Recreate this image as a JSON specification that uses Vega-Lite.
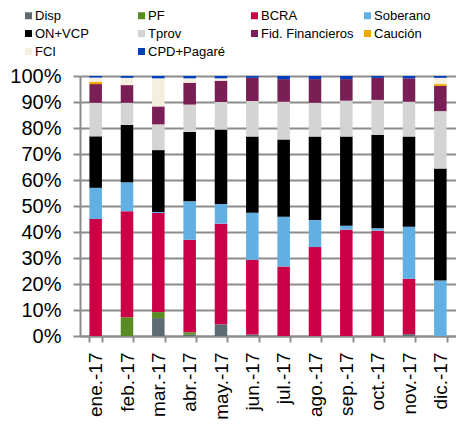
{
  "$schema": "https://vega.github.io/schema/vega-lite/v6.json",
  "width": 376,
  "height": 260,
  "autosize": {"type": "none"},
  "padding": {"left": 80, "top": 76, "right": 0, "bottom": 88},
  "background": "white",
  "config": {
    "font": "Liberation Sans",
    "view": {"stroke": null},
    "axis": {"labelFont": "Liberation Sans", "labelColor": "black"},
    "legend": {"labelFont": "Liberation Sans"}
  },
  "data": {
    "values": [
      {"mes": "ene.-17", "serie": "BCRA", "k": 3, "valor": 45},
      {"mes": "ene.-17", "serie": "Soberano", "k": 4, "valor": 12},
      {"mes": "ene.-17", "serie": "ON+VCP", "k": 5, "valor": 19.8},
      {"mes": "ene.-17", "serie": "Tprov", "k": 6, "valor": 12.9},
      {"mes": "ene.-17", "serie": "Fid. Financieros", "k": 7, "valor": 7.2},
      {"mes": "ene.-17", "serie": "Caución", "k": 8, "valor": 0.9},
      {"mes": "ene.-17", "serie": "FCI", "k": 9, "valor": 1.6},
      {"mes": "ene.-17", "serie": "CPD+Pagaré", "k": 10, "valor": 0.6},
      {"mes": "feb.-17", "serie": "PF", "k": 2, "valor": 7.2},
      {"mes": "feb.-17", "serie": "BCRA", "k": 3, "valor": 40.8},
      {"mes": "feb.-17", "serie": "Soberano", "k": 4, "valor": 11.1},
      {"mes": "feb.-17", "serie": "ON+VCP", "k": 5, "valor": 22.1},
      {"mes": "feb.-17", "serie": "Tprov", "k": 6, "valor": 8.5},
      {"mes": "feb.-17", "serie": "Fid. Financieros", "k": 7, "valor": 6.8},
      {"mes": "feb.-17", "serie": "FCI", "k": 9, "valor": 2.8},
      {"mes": "feb.-17", "serie": "CPD+Pagaré", "k": 10, "valor": 0.7},
      {"mes": "mar.-17", "serie": "Disp", "k": 1, "valor": 6.9},
      {"mes": "mar.-17", "serie": "PF", "k": 2, "valor": 2.3},
      {"mes": "mar.-17", "serie": "BCRA", "k": 3, "valor": 38.1},
      {"mes": "mar.-17", "serie": "Soberano", "k": 4, "valor": 0.4},
      {"mes": "mar.-17", "serie": "ON+VCP", "k": 5, "valor": 23.8},
      {"mes": "mar.-17", "serie": "Tprov", "k": 6, "valor": 9.9},
      {"mes": "mar.-17", "serie": "Fid. Financieros", "k": 7, "valor": 6.9},
      {"mes": "mar.-17", "serie": "FCI", "k": 9, "valor": 10.8},
      {"mes": "mar.-17", "serie": "CPD+Pagaré", "k": 10, "valor": 0.9},
      {"mes": "abr.-17", "serie": "Disp", "k": 1, "valor": 0.5},
      {"mes": "abr.-17", "serie": "PF", "k": 2, "valor": 0.9},
      {"mes": "abr.-17", "serie": "BCRA", "k": 3, "valor": 35.6},
      {"mes": "abr.-17", "serie": "Soberano", "k": 4, "valor": 14.8},
      {"mes": "abr.-17", "serie": "ON+VCP", "k": 5, "valor": 26.7},
      {"mes": "abr.-17", "serie": "Tprov", "k": 6, "valor": 10.5},
      {"mes": "abr.-17", "serie": "Fid. Financieros", "k": 7, "valor": 8.4},
      {"mes": "abr.-17", "serie": "FCI", "k": 9, "valor": 1.7},
      {"mes": "abr.-17", "serie": "CPD+Pagaré", "k": 10, "valor": 0.9},
      {"mes": "may.-17", "serie": "Disp", "k": 1, "valor": 4.5},
      {"mes": "may.-17", "serie": "BCRA", "k": 3, "valor": 38.7},
      {"mes": "may.-17", "serie": "Soberano", "k": 4, "valor": 7.6},
      {"mes": "may.-17", "serie": "ON+VCP", "k": 5, "valor": 28.6},
      {"mes": "may.-17", "serie": "Tprov", "k": 6, "valor": 10.6},
      {"mes": "may.-17", "serie": "Fid. Financieros", "k": 7, "valor": 8.2},
      {"mes": "may.-17", "serie": "FCI", "k": 9, "valor": 0.9},
      {"mes": "may.-17", "serie": "CPD+Pagaré", "k": 10, "valor": 0.9},
      {"mes": "jun.-17", "serie": "Disp", "k": 1, "valor": 0.6},
      {"mes": "jun.-17", "serie": "BCRA", "k": 3, "valor": 28.7},
      {"mes": "jun.-17", "serie": "Soberano", "k": 4, "valor": 18.1},
      {"mes": "jun.-17", "serie": "ON+VCP", "k": 5, "valor": 29.3},
      {"mes": "jun.-17", "serie": "Tprov", "k": 6, "valor": 13.7},
      {"mes": "jun.-17", "serie": "Fid. Financieros", "k": 7, "valor": 8.9},
      {"mes": "jun.-17", "serie": "CPD+Pagaré", "k": 10, "valor": 0.7},
      {"mes": "jul.-17", "serie": "BCRA", "k": 3, "valor": 26.7},
      {"mes": "jul.-17", "serie": "Soberano", "k": 4, "valor": 19.2},
      {"mes": "jul.-17", "serie": "ON+VCP", "k": 5, "valor": 29.7},
      {"mes": "jul.-17", "serie": "Tprov", "k": 6, "valor": 14.5},
      {"mes": "jul.-17", "serie": "Fid. Financieros", "k": 7, "valor": 8.7},
      {"mes": "jul.-17", "serie": "CPD+Pagaré", "k": 10, "valor": 1.2},
      {"mes": "ago.-17", "serie": "BCRA", "k": 3, "valor": 34.2},
      {"mes": "ago.-17", "serie": "Soberano", "k": 4, "valor": 10.4},
      {"mes": "ago.-17", "serie": "ON+VCP", "k": 5, "valor": 32.1},
      {"mes": "ago.-17", "serie": "Tprov", "k": 6, "valor": 13},
      {"mes": "ago.-17", "serie": "Fid. Financieros", "k": 7, "valor": 9.1},
      {"mes": "ago.-17", "serie": "CPD+Pagaré", "k": 10, "valor": 1.2},
      {"mes": "sep.-17", "serie": "BCRA", "k": 3, "valor": 40.9},
      {"mes": "sep.-17", "serie": "Soberano", "k": 4, "valor": 1.5},
      {"mes": "sep.-17", "serie": "ON+VCP", "k": 5, "valor": 34.3},
      {"mes": "sep.-17", "serie": "Tprov", "k": 6, "valor": 13.8},
      {"mes": "sep.-17", "serie": "Fid. Financieros", "k": 7, "valor": 8.3},
      {"mes": "sep.-17", "serie": "CPD+Pagaré", "k": 10, "valor": 1.2},
      {"mes": "oct.-17", "serie": "BCRA", "k": 3, "valor": 40.5},
      {"mes": "oct.-17", "serie": "Soberano", "k": 4, "valor": 0.9},
      {"mes": "oct.-17", "serie": "ON+VCP", "k": 5, "valor": 35.9},
      {"mes": "oct.-17", "serie": "Tprov", "k": 6, "valor": 13.5},
      {"mes": "oct.-17", "serie": "Fid. Financieros", "k": 7, "valor": 8.5},
      {"mes": "oct.-17", "serie": "CPD+Pagaré", "k": 10, "valor": 0.7},
      {"mes": "nov.-17", "serie": "Disp", "k": 1, "valor": 0.7},
      {"mes": "nov.-17", "serie": "BCRA", "k": 3, "valor": 21.3},
      {"mes": "nov.-17", "serie": "Soberano", "k": 4, "valor": 20},
      {"mes": "nov.-17", "serie": "ON+VCP", "k": 5, "valor": 34.7},
      {"mes": "nov.-17", "serie": "Tprov", "k": 6, "valor": 13.4},
      {"mes": "nov.-17", "serie": "Fid. Financieros", "k": 7, "valor": 9},
      {"mes": "nov.-17", "serie": "CPD+Pagaré", "k": 10, "valor": 0.9},
      {"mes": "dic.-17", "serie": "Soberano", "k": 4, "valor": 21.3},
      {"mes": "dic.-17", "serie": "ON+VCP", "k": 5, "valor": 43.1},
      {"mes": "dic.-17", "serie": "Tprov", "k": 6, "valor": 22.1},
      {"mes": "dic.-17", "serie": "Fid. Financieros", "k": 7, "valor": 9.7},
      {"mes": "dic.-17", "serie": "Caución", "k": 8, "valor": 0.7},
      {"mes": "dic.-17", "serie": "FCI", "k": 9, "valor": 2.4},
      {"mes": "dic.-17", "serie": "CPD+Pagaré", "k": 10, "valor": 0.7}
    ]
  },
  "mark": {"type": "bar"},
  "encoding": {
    "x": {
      "field": "mes",
      "type": "nominal",
      "sort": null,
      "scale": {"paddingInner": 0.6, "paddingOuter": 0.3},
      "axis": {
        "title": null,
        "labelAngle": 270,
        "labelAlign": "right",
        "labelBaseline": "middle",
        "labelFontSize": 19,
        "labelPadding": 10,
        "tickBand": "extent",
        "tickSize": 6,
        "tickColor": "#8c8c8c",
        "tickWidth": 2,
        "domainColor": "#8c8c8c",
        "domainWidth": 2,
        "grid": false
      }
    },
    "y": {
      "field": "valor",
      "type": "quantitative",
      "stack": "normalize",
      "scale": {"domain": [0, 1], "nice": false},
      "axis": {
        "title": null,
        "format": ".0%",
        "values": [0, 0.1, 0.2, 0.3, 0.4, 0.5, 0.6, 0.7, 0.8, 0.9, 1],
        "labelFontSize": 20,
        "labelPadding": 12,
        "tickSize": 7,
        "tickColor": "#8c8c8c",
        "tickWidth": 2,
        "domainColor": "#8c8c8c",
        "domainWidth": 2,
        "grid": true,
        "gridColor": "#8c8c8c",
        "gridWidth": 2
      }
    },
    "order": {"field": "k", "type": "quantitative", "sort": "ascending"},
    "color": {
      "field": "serie",
      "type": "nominal",
      "scale": {
        "domain": ["Disp", "PF", "BCRA", "Soberano", "ON+VCP", "Tprov", "Fid. Financieros", "Caución", "FCI", "CPD+Pagaré"],
        "range": ["#5f6b73", "#5a8a22", "#cc0047", "#62b0e3", "#000000", "#d4d4d4", "#7a1f55", "#f0a800", "#f5efdf", "#0040c0"]
      },
      "legend": {
        "title": null,
        "orient": "none",
        "direction": "horizontal",
        "legendX": -58,
        "legendY": -67,
        "columns": 4,
        "gridAlign": "all",
        "columnPadding": 7,
        "rowPadding": 4,
        "padding": 0,
        "symbolType": "square",
        "symbolSize": 49,
        "symbolStrokeWidth": 0,
        "labelFontSize": 13,
        "labelOffset": 0,
        "labelColor": "black"
      }
    }
  }
}
